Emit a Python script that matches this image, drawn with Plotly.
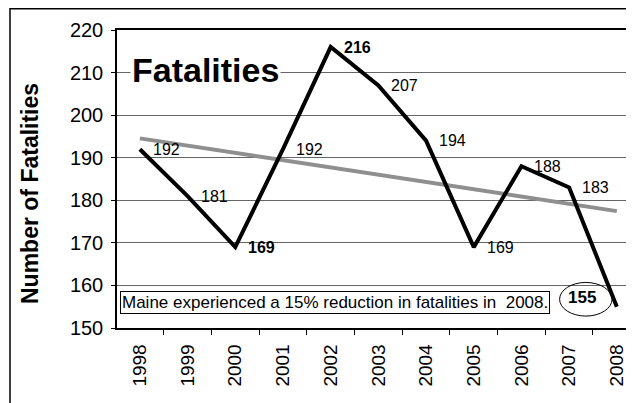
import numpy as np
import plotly.graph_objects as go

years = ["1998", "1999", "2000", "2001", "2002", "2003", "2004", "2005", "2006", "2007", "2008"]
fatalities = [192, 181, 169, 192, 216, 207, 194, 169, 188, 183, 155]
y_ticks = [150, 160, 170, 180, 190, 200, 210, 220]
note_text = "Maine experienced a 15% reduction in fatalities in\u00a0 2008."
chart_title = "Fatalities"
y_title = "Number of Fatalities"

# label styling
label_bold = [False, False, True, False, True, False, False, False, False, False, True]

idx = np.arange(len(fatalities))
slope, intercept = np.polyfit(idx, fatalities, 1)
trend = intercept + slope * idx

FONT = "Liberation Sans, Arial, sans-serif"

fig = go.Figure()
fig.add_trace(go.Scatter(x=years, y=list(trend), mode="lines",
                         line=dict(color="#8f8f8f", width=4), hoverinfo="skip"))
fig.add_trace(go.Scatter(x=years, y=fatalities, mode="lines",
                         line=dict(color="black", width=4)))

# page body has an 8px margin, so the figure is offset by 8px
OFF = 8
W, H = 634 - OFF, 403 - OFF
L, T = 117 - OFF, 30 - OFF
R = 0
B = H - (328 - OFF)
pw, ph = W - L - R, H - T - B

annotations = []
for i, (yr, v) in enumerate(zip(years, fatalities)):
    txt = str(v)
    if label_bold[i]:
        txt = "<b>" + txt + "</b>"
    if i == len(years) - 1:
        annotations.append(dict(x=i, y=v, xref="x", yref="y", text=txt, showarrow=False,
                                xanchor="right", yanchor="middle", xshift=-19, yshift=9,
                                font=dict(family=FONT, size=17, color="black")))
    else:
        annotations.append(dict(x=i, y=v, xref="x", yref="y", text=txt, showarrow=False,
                                xanchor="left", yanchor="middle", xshift=11, yshift=0,
                                font=dict(family=FONT, size=16, color="black")))

annotations.append(dict(x=-0.21, y=210.6, xref="x", yref="y", text="<b>" + chart_title + "</b>",
                        showarrow=False, xanchor="left", yanchor="middle", bgcolor="white",
                        font=dict(family=FONT, size=34, color="black")))
annotations.append(dict(x=-0.41, y=156.1, xref="x", yref="y", text=note_text,
                        showarrow=False, xanchor="left", yanchor="middle", bgcolor="white",
                        bordercolor="black", borderwidth=1, borderpad=1,
                        font=dict(family=FONT, size=17, color="black")))
annotations.append(dict(x=(30 - OFF - L) / pw, y=(T + ph - (194 - OFF)) / ph,
                        xref="paper", yref="paper",
                        text="<b>" + y_title + "</b>", showarrow=False, textangle=-90,
                        xanchor="center", yanchor="middle",
                        font=dict(family=FONT, size=23, color="black")))

shapes = [
    dict(type="circle", xref="x", yref="y", x0=8.8, x1=9.9, y0=152.8, y1=160.7,
         line=dict(color="black", width=1)),
    dict(type="rect", xref="paper", yref="paper", x0=(10 - OFF - L) / pw, x1=1.2,
         y0=-0.5, y1=(T + ph - 0.8) / ph, line=dict(color="black", width=1.5), layer="above"),
]

fig.update_layout(
    width=W, height=H, margin=dict(l=L, r=R, t=T, b=B, pad=0, autoexpand=False),
    paper_bgcolor="white", plot_bgcolor="white", showlegend=False,
    font=dict(family=FONT, color="black"),
    annotations=annotations, shapes=shapes,
    xaxis=dict(type="category", categoryorder="array", categoryarray=years,
               range=[-0.48, 10.36], showgrid=False, showline=True, linecolor="black",
               linewidth=1.5, mirror=True, ticks="outside", tickson="boundaries", ticklen=5,
               tickcolor="black", tickangle=-90, tickfont=dict(family=FONT, size=19),
               ticklabelstandoff=7, zeroline=False, automargin=False),
    yaxis=dict(range=[150, 220], tickvals=y_ticks, showgrid=True, gridcolor="#666666",
               gridwidth=1, showline=True, linecolor="black", linewidth=1.5,
               ticks="outside", ticklen=4, tickcolor="black", ticklabelstandoff=4,
               tickfont=dict(family=FONT, size=20), zeroline=False, automargin=False),
)

fig.write_html("out.html")
